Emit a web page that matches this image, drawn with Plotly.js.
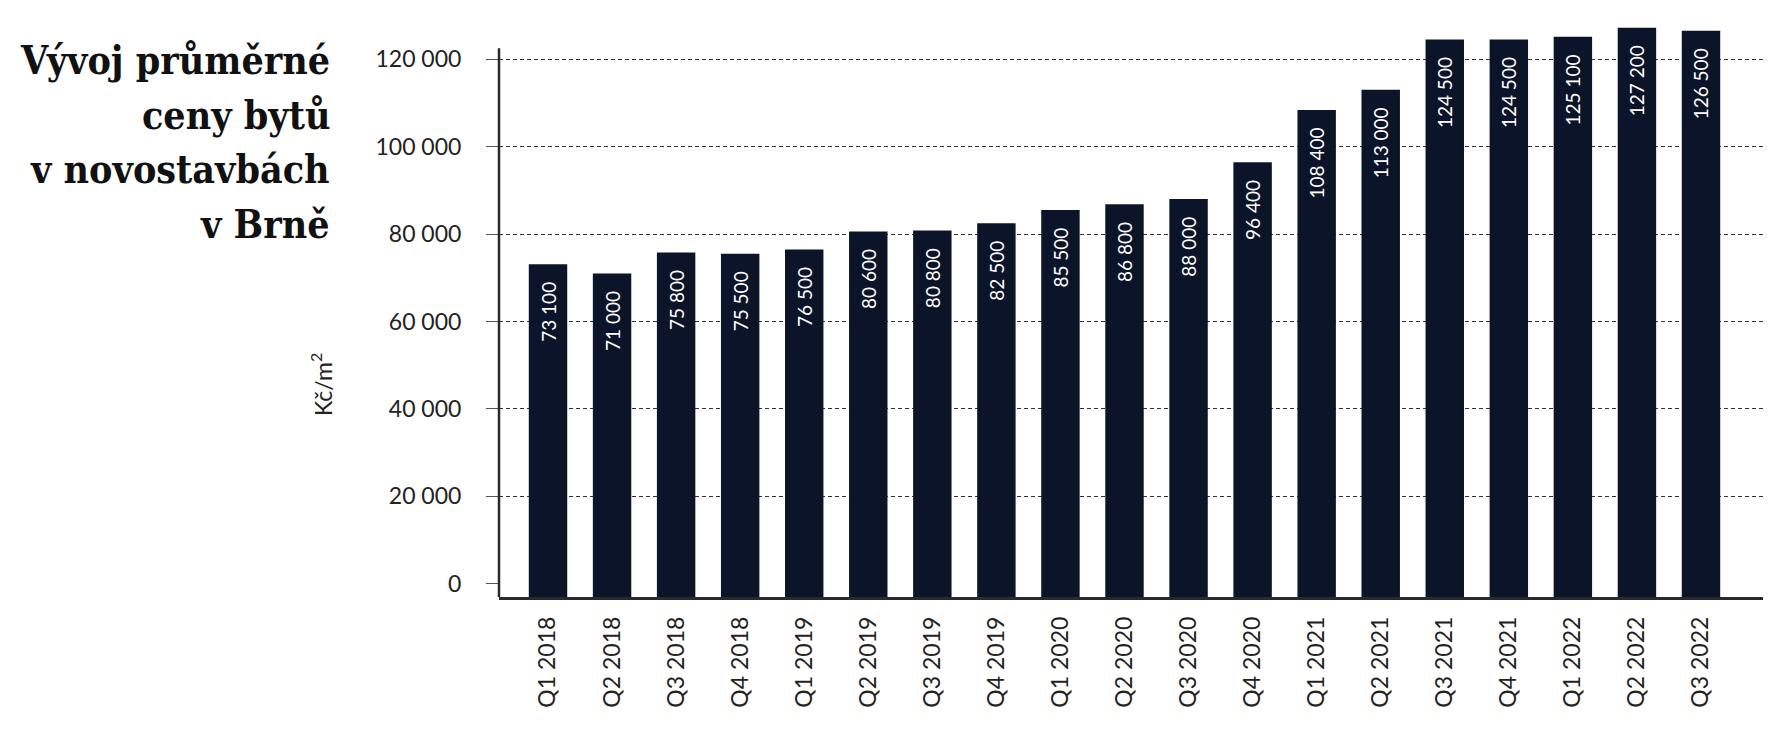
<!DOCTYPE html>
<html>
<head>
<meta charset="utf-8">
<script src="https://cdn.plot.ly/plotly-3.0.1.min.js"></script>
<style>
  html, body { margin: 0; padding: 0; background: #fff; }
  #chart { width: 1780px; height: 738px; }
</style>
</head>
<body>
<div id="chart"></div>
<script>
// quarters and average price per m2 (Kč)
const quarters = ['Q1 2018', 'Q2 2018', 'Q3 2018', 'Q4 2018',
                  'Q1 2019', 'Q2 2019', 'Q3 2019', 'Q4 2019',
                  'Q1 2020', 'Q2 2020', 'Q3 2020', 'Q4 2020',
                  'Q1 2021', 'Q2 2021', 'Q3 2021', 'Q4 2021',
                  'Q1 2022', 'Q2 2022', 'Q3 2022'];
const prices = [73100, 71000, 75800, 75500,
                76500, 80600, 80800, 82500,
                85500, 86800, 88000, 96400,
                108400, 113000, 124500, 124500,
                125100, 127200, 126500];
const yTicks = [0, 20000, 40000, 60000, 80000, 100000, 120000];

const titleLines = ['Vývoj průměrné', 'ceny bytů', 'v novostavbách', 'v Brně'];
const unitLabel = 'Kč/m<sup>2</sup>';

// bars sit on the axis line, a bit below zero
const yMin = -3000;
const yMax = 128500;

function fmt(v){
    return v.toString().replace(/\B(?=(\d{3})+(?!\d))/g, ' ');
}

const trace = {
    type: 'bar',
    x: quarters,
    y: prices.map(v => v - yMin),
    base: yMin,
    text: prices.map(v => fmt(v) + '\u00a0\u00a0\u00a0'),
    texttemplate: '%{text}',
    textposition: 'inside',
    insidetextanchor: 'end',
    textangle: -90,
    constraintext: 'none',
    textfont: {family: 'Lato, sans-serif', size: 19, color: '#ffffff'},
    marker: {color: '#0b1429', line: {width: 0}},
    hoverinfo: 'skip'
};

// title lines, one annotation each so the line spacing can be set
const plotBottomPx = 597, plotHeightPx = 575;
let titleAnnotations = titleLines.map((line, i) => ({
    text: line,
    xref: 'paper', yref: 'paper',
    x: -0.1321,
    y: (plotBottomPx - (35 + i * 54.5)) / plotHeightPx,
    xanchor: 'right', yanchor: 'top',
    align: 'right',
    showarrow: false,
    font: {family: '"DejaVu Serif Condensed", "Liberation Serif", serif', size: 39, color: '#111111', weight: 'bold'}
}));

const layout = {
    width: 1780,
    height: 738,
    margin: {l: 499, r: 17, t: 22, b: 141},
    paper_bgcolor: '#ffffff',
    plot_bgcolor: '#ffffff',
    separators: ', ',
    showlegend: false,
    bargap: 0.4,
    font: {family: 'Lato, sans-serif', color: '#222222'},
    xaxis: {
        type: 'category',
        categoryorder: 'array',
        categoryarray: quarters,
        range: [-0.765, 18.968],
        showgrid: false,
        zeroline: false,
        showline: true,
        linecolor: '#2a2a2a',
        linewidth: 2.5,
        ticks: '',
        tickangle: -90,
        ticklabelstandoff: 8,
        tickfont: {family: 'Lato, sans-serif', size: 23, color: '#222222'}
    },
    yaxis: {
        range: [yMin, yMax],
        tickvals: yTicks,
        ticktext: yTicks.map(fmt),
        showgrid: true,
        gridcolor: '#333333',
        gridwidth: 1,
        griddash: '4px,3px',
        zeroline: true,
        zerolinecolor: 'rgba(0,0,0,0)',
        showline: false,
        ticks: 'outside',
        ticklen: 12,
        tickwidth: 1,
        tickcolor: '#555555',
        ticklabelstandoff: 20,
        tickfont: {family: 'Lato, sans-serif', size: 23, color: '#222222'}
    },
    shapes: [{
        type: 'line',
        xref: 'paper', yref: 'y',
        x0: 0, x1: 0,
        y0: yMin, y1: 122500,
        line: {color: '#2a2a2a', width: 2.5}
    }],
    annotations: titleAnnotations.concat([{
        text: unitLabel,
        xref: 'paper', yref: 'paper',
        x: -0.14, y: 0.3687,
        xanchor: 'center', yanchor: 'middle',
        textangle: -90,
        showarrow: false,
        font: {family: 'Lato, sans-serif', size: 23, color: '#222222'}
    }])
};

Plotly.newPlot('chart', [trace], layout, {displayModeBar: false, staticPlot: true});
</script>
</body>
</html>
